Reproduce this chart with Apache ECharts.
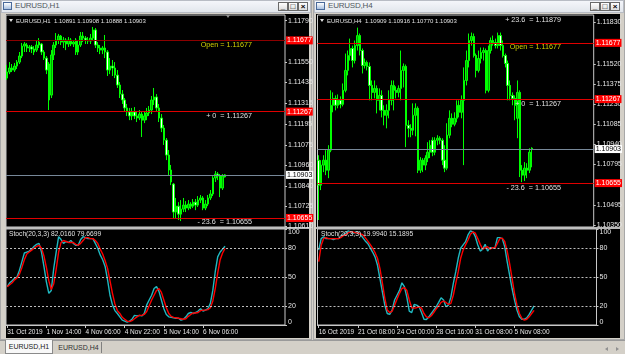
<!DOCTYPE html>
<html><head><meta charset="utf-8">
<script src="https://cdn.jsdelivr.net/npm/echarts@6.0.0/dist/echarts.min.js"></script>
<style>
*{box-sizing:border-box}
html,body{margin:0;padding:0;width:625px;height:354px;overflow:hidden;background:#d4d0c8;font-family:"Liberation Sans",Arial,sans-serif}
.abs{position:absolute}
.title{position:absolute;height:13px;background:linear-gradient(#f4f6fa,#e2e6ec);border:1px solid #b8bcc4}
.ttxt{position:absolute;top:0px;font-size:8px;color:#505860;line-height:12px;letter-spacing:-0.2px}
.icon{position:absolute;top:2px;width:9px;height:8px;border:1px solid #4a6a9a;background:linear-gradient(#ffffff,#a8c0e0)}
.btn{position:absolute;top:2px;width:10px;height:9px;border:1px solid #6a6a6a;background:linear-gradient(#ffffff,#dcdcdc);font-size:8px;line-height:7px;text-align:center;color:#000;font-weight:bold}
.blk{position:absolute;background:#000}
.sep{position:absolute;background:#b8b8b8}
.ov{position:absolute;color:#e0e0e0;white-space:pre;line-height:8px}
.tri{position:absolute;width:0;height:0;border-left:2.5px solid transparent;border-right:2.5px solid transparent;border-top:3px solid #e0e0e0}
#c{position:absolute;left:0;top:0;width:625px;height:354px}
#ovl{position:absolute;left:0;top:0;width:625px;height:354px;pointer-events:none}
</style></head>
<body>
<!-- window chrome -->
<div class="abs" style="left:0;top:0;width:312px;height:340px;border:1px solid #a8a8a8;background:#d4d0c8"></div>
<div class="abs" style="left:313px;top:0;width:312px;height:340px;border:1px solid #a8a8a8;background:#d4d0c8"></div>
<div class="title" style="left:1px;top:0;width:310px"></div>
<div class="icon" style="left:3px"></div>
<div class="ttxt" style="left:15px">EURUSD,H1</div>
<div class="btn" style="left:278px">_</div>
<div class="btn" style="left:288px">&#9633;</div>
<div class="btn" style="left:298px">&#215;</div>
<div class="title" style="left:314px;top:0;width:310px"></div>
<div class="icon" style="left:316px"></div>
<div class="ttxt" style="left:328px">EURUSD,H4</div>
<div class="btn" style="left:590px">_</div>
<div class="btn" style="left:600px">&#9633;</div>
<div class="btn" style="left:610px">&#215;</div>
<div class="blk" style="left:6px;top:14px;width:303px;height:324px"></div>
<div class="blk" style="left:316px;top:14px;width:304px;height:324px"></div>
<div class="sep" style="left:6px;top:227px;width:303px;height:2px"></div>
<div class="sep" style="left:316px;top:227px;width:304px;height:2px"></div>
<!-- tab strip -->
<div class="abs" style="left:0;top:340px;width:625px;height:14px;background:#d4d0c8;border-top:1px solid #9a9a9a"></div>
<div class="abs" style="left:5px;top:340px;width:48px;height:14px;background:#f8f8f8;border:1px solid #8a8a8a;border-top:none;font-size:7px;line-height:13px;text-align:center;color:#202020">EURUSD,H1</div>
<div class="abs" style="left:56px;top:341px;width:45px;height:13px;font-size:7px;line-height:13px;text-align:center;color:#303030">EURUSD,H4</div>
<div class="abs" style="left:101px;top:342px;width:1px;height:11px;background:#808080"></div>
<div class="abs" style="left:605px;top:347px;width:0;height:0;border-top:2px solid transparent;border-bottom:2px solid transparent;border-right:3px solid #909090"></div>
<div class="abs" style="left:616px;top:347px;width:0;height:0;border-top:2px solid transparent;border-bottom:2px solid transparent;border-left:3px solid #909090"></div>

<div id="c"></div>

<div id="ovl">
  <div class="tri" style="left:9px;top:19px"></div>
  <div class="ov" style="left:16px;top:16.5px;font-size:6px">EURUSD,H1  1.10891 1.10908 1.10888 1.10903</div>
  <div class="tri" style="left:226px;top:15px;border-top-color:#909090"></div>
  <div class="ov" style="left:9px;top:230px;font-size:6.7px">Stoch(20,3,3) 82.0160 79.6699</div>
  <div class="tri" style="left:320px;top:19px"></div>
  <div class="ov" style="left:327px;top:16.5px;font-size:6px">EURUSD,H4  1.10909 1.10916 1.10770 1.10903</div>
  <div class="ov" style="left:321px;top:230px;font-size:6.7px">Stoch(20,3,3) 19.9940 15.1895</div>
</div>

<script>
// ---------------- DATA ----------------
const h1TimeLabels = ['31 Oct 2019','1 Nov 14:00','4 Nov 06:00','4 Nov 22:00','5 Nov 14:00','6 Nov 06:00'];
const h4TimeLabels = ['16 Oct 2019','21 Oct 08:00','24 Oct 00:00','28 Oct 16:00','31 Oct 08:00','5 Nov 08:00'];
const h1PriceTicks = [1.11790,1.11550,1.11435,1.11315,1.11195,1.11075,1.10960,1.10840,1.10725,1.10610];
const h4PriceTicks = [1.11830,1.11520,1.11375,1.11230,1.11085,1.10940,1.10795,1.10495,1.10350];
const stochTicks = [0,20,50,80,100];
const stochLevels = [20,50,80];
const openLevel = 1.11677;
const zeroLevel = 1.11267;
const minus236Level = 1.10655;
const plus236Level = 1.11879;
const bidPrice = 1.10903;

// [open, close, low, high]
const h1Ohlc = [
[1.11460,1.11495,1.11449,1.11535],[1.11495,1.11518,1.11483,1.11552],[1.11518,1.11506,1.11495,1.11541],[1.11506,1.11529,1.11495,1.11547],
[1.11529,1.11552,1.11512,1.11564],[1.11552,1.11587,1.11541,1.11610],[1.11587,1.11644,1.11575,1.11662],[1.11644,1.11656,1.11610,1.11667],
[1.11650,1.11633,1.11610,1.11662],[1.11633,1.11639,1.11610,1.11650],[1.11639,1.11627,1.11604,1.11650],[1.11627,1.11610,1.11593,1.11644],
[1.11621,1.11650,1.11610,1.11679],[1.11650,1.11667,1.11633,1.11690],[1.11656,1.11610,1.11593,1.11662],[1.11610,1.11575,1.11564,1.11621],
[1.11575,1.11506,1.11483,1.11587],[1.11541,1.11334,1.11276,1.11552],[1.11362,1.11593,1.11345,1.11621],[1.11593,1.11650,1.11564,1.11667],
[1.11650,1.11679,1.11633,1.11719],[1.11679,1.11702,1.11656,1.11714],[1.11702,1.11667,1.11650,1.11708],[1.11667,1.11679,1.11633,1.11696],
[1.11679,1.11656,1.11621,1.11690],[1.11656,1.11679,1.11639,1.11696],[1.11679,1.11656,1.11644,1.11690],[1.11656,1.11667,1.11639,1.11679],
[1.11679,1.11610,1.11593,1.11690],[1.11610,1.11650,1.11593,1.11679],[1.11650,1.11702,1.11639,1.11725],[1.11702,1.11690,1.11667,1.11725],
[1.11690,1.11679,1.11656,1.11702],[1.11679,1.11673,1.11656,1.11696],[1.11673,1.11690,1.11656,1.11714],[1.11690,1.11737,1.11679,1.11754],
[1.11737,1.11650,1.11633,1.11748],[1.11650,1.11633,1.11610,1.11667],[1.11633,1.11621,1.11598,1.11650],[1.11621,1.11633,1.11598,1.11644],
[1.11633,1.11610,1.11575,1.11708],[1.11610,1.11506,1.11472,1.11621],[1.11506,1.11529,1.11483,1.11575],[1.11529,1.11518,1.11472,1.11564],
[1.11518,1.11477,1.11460,1.11552],[1.11477,1.11420,1.11403,1.11506],[1.11420,1.11368,1.11345,1.11437],[1.11368,1.11334,1.11311,1.11391],
[1.11334,1.11288,1.11265,1.11345],[1.11288,1.11265,1.11242,1.11311],[1.11265,1.11242,1.11218,1.11288],[1.11242,1.11265,1.11218,1.11288],
[1.11265,1.11242,1.11224,1.11293],[1.11242,1.11230,1.11207,1.11265],[1.11230,1.11253,1.11218,1.11276],[1.11253,1.11218,1.11121,1.11270],
[1.11218,1.11242,1.11201,1.11265],[1.11242,1.11259,1.11218,1.11288],[1.11259,1.11276,1.11242,1.11299],[1.11276,1.11334,1.11253,1.11357],
[1.11334,1.11351,1.11305,1.11403],[1.11351,1.11288,1.11265,1.11368],[1.11288,1.11230,1.11207,1.11311],[1.11230,1.11172,1.11149,1.11253],
[1.11172,1.11103,1.11075,1.11190],[1.11103,1.11017,1.10988,1.11115],[1.11017,1.10931,1.10902,1.11046],[1.10931,1.10862,1.10844,1.10960],
[1.10850,1.10689,1.10654,1.10856],[1.10689,1.10723,1.10649,1.10770],[1.10723,1.10677,1.10643,1.10746],[1.10677,1.10706,1.10637,1.10758],
[1.10706,1.10729,1.10689,1.10770],[1.10729,1.10712,1.10689,1.10752],[1.10712,1.10735,1.10700,1.10758],[1.10735,1.10723,1.10706,1.10746],
[1.10723,1.10746,1.10712,1.10764],[1.10746,1.10729,1.10700,1.10764],[1.10729,1.10758,1.10718,1.10781],[1.10758,1.10770,1.10741,1.10787],
[1.10770,1.10712,1.10700,1.10781],[1.10712,1.10735,1.10700,1.10758],[1.10735,1.10770,1.10723,1.10787],[1.10770,1.10793,1.10758,1.10816],
[1.10793,1.10885,1.10781,1.10896],[1.10885,1.10908,1.10862,1.10925],[1.10908,1.10896,1.10873,1.10919],[1.10896,1.10827,1.10775,1.10908],
[1.10827,1.10896,1.10816,1.10908],[1.10891,1.10903,1.10888,1.10908]
];
const h1StochMain = [40,44,46,48.6,50,57,66,75,76,77,79,82,84,85,76,61,45,33,36,59,76,92,89,85,87,86,88,85,83,83,89,92,91,90,90,90,85,80,73,68,61,47,31,21,15,12,8.5,5,4,3,4,6,10,9.5,10,9.5,12,21,26,31,38,40,35,26,17,11,8.5,8,7.5,7,7,5,6,8.5,12,13,12,13,14.5,17,14.5,15.5,17,22.5,36,55.5,71,76,79,82.016];
const h1StochSignal = [40,42,44,47,49,53,60,68,74,76,78,80,82,83,80,72,60,46,37,43,58,76,86,88,87,86,86,86,84,83,85,88,91,91,90,90,88,85,79,74,67,59,46,33,22,15,12,8,6,4,3.5,4.5,6.5,8.5,10,10,11,14,20,26,31,36,38,34,26,18,12,9,8,7.5,7,6.5,6,6.5,9,11,12.5,12.5,13,15,15.5,15.5,16,18,25,38,54,68,75,79.67];

const h4Ohlc = [
[1.10822,1.10640,1.10386,1.10858],[1.10640,1.10786,1.10604,1.10822],[1.10786,1.10822,1.10735,1.10858],[1.10822,1.10749,1.10713,1.10895],
[1.10749,1.10895,1.10691,1.10931],[1.10895,1.11222,1.10880,1.11331],[1.11222,1.11272,1.11171,1.11316],[1.11272,1.11222,1.11185,1.11294],
[1.11222,1.11258,1.11200,1.11301],[1.11258,1.11229,1.11200,1.11287],[1.11229,1.11331,1.11214,1.11381],[1.11331,1.11476,1.11316,1.11599],
[1.11476,1.11585,1.11440,1.11621],[1.11585,1.11636,1.11548,1.11708],[1.11636,1.11548,1.11498,1.11657],[1.11548,1.11657,1.11527,1.11694],
[1.11657,1.11730,1.11621,1.11788],[1.11730,1.11621,1.11585,1.11745],[1.11621,1.11512,1.11454,1.11636],[1.11512,1.11534,1.11490,1.11563],
[1.11534,1.11505,1.11476,1.11548],[1.11505,1.11367,1.11258,1.11534],[1.11367,1.11316,1.11258,1.11403],[1.11316,1.11345,1.11272,1.11403],
[1.11345,1.11258,1.11163,1.11367],[1.11258,1.11294,1.11185,1.11345],[1.11294,1.11185,1.11134,1.11331],[1.11185,1.11149,1.11076,1.11222],
[1.11149,1.11185,1.11054,1.11229],[1.11185,1.11258,1.11127,1.11331],[1.11258,1.11367,1.11222,1.11403],[1.11367,1.11331,1.11185,1.11403],
[1.11331,1.11316,1.11272,1.11360],[1.11316,1.11345,1.11280,1.11367],[1.11345,1.11476,1.11258,1.11621],[1.11476,1.11505,1.11352,1.11527],
[1.11505,1.11076,1.10917,1.11519],[1.11076,1.11054,1.10989,1.11113],[1.11054,1.11040,1.10989,1.11084],[1.11040,1.11149,1.11004,1.11236],
[1.11149,1.11200,1.10996,1.11236],[1.11200,1.10749,1.10728,1.11214],[1.10749,1.10822,1.10728,1.10844],[1.10822,1.10786,1.10735,1.10837],
[1.10786,1.10837,1.10749,1.10858],[1.10837,1.10880,1.10808,1.10953],[1.10880,1.10931,1.10837,1.10967],[1.10967,1.10880,1.10851,1.10989],
[1.10880,1.10967,1.10858,1.10989],[1.10967,1.10982,1.10931,1.11004],[1.10982,1.10967,1.10938,1.10996],[1.10967,1.10822,1.10786,1.10982],
[1.10822,1.10764,1.10735,1.10931],[1.10764,1.11004,1.10749,1.11091],[1.11004,1.11127,1.10982,1.11185],[1.11127,1.11084,1.11062,1.11163],
[1.11084,1.11127,1.11069,1.11171],[1.11127,1.11222,1.11098,1.11258],[1.11222,1.11171,1.11134,1.11258],[1.11171,1.11258,1.11127,1.11294],
[1.11258,1.11403,1.10786,1.11498],[1.11403,1.11548,1.11367,1.11621],[1.11548,1.11694,1.11498,1.11745],[1.11694,1.11723,1.11657,1.11752],
[1.11723,1.11585,1.11570,1.11745],[1.11585,1.11476,1.11425,1.11599],[1.11476,1.11563,1.11461,1.11621],[1.11563,1.11607,1.11527,1.11643],
[1.11607,1.11621,1.11548,1.11643],[1.11621,1.11331,1.11309,1.11636],[1.11331,1.11621,1.11316,1.11657],[1.11621,1.11694,1.11599,1.11716],
[1.11694,1.11679,1.11657,1.11730],[1.11679,1.11657,1.11636,1.11708],[1.11657,1.11730,1.11636,1.11752],[1.11730,1.11657,1.11621,1.11752],
[1.11657,1.11585,1.11570,1.11694],[1.11585,1.11527,1.11498,1.11599],[1.11527,1.11367,1.11258,1.11548],[1.11367,1.11294,1.11258,1.11403],
[1.11294,1.11272,1.11222,1.11316],[1.11272,1.11222,1.11113,1.11294],[1.11127,1.11316,1.10982,1.11403],[1.11316,1.10749,1.10699,1.11331],
[1.10749,1.10713,1.10662,1.10786],[1.10713,1.10764,1.10670,1.10808],[1.10764,1.10749,1.10691,1.10800],[1.10749,1.10880,1.10728,1.10909],
[1.10909,1.10903,1.10770,1.10916]
];
const h4StochMain = [78,90,92,90,90,90,89,90,90,92,94,95.6,98,97,95.6,96.6,97,94.5,91,87.6,85,80.6,76,71,62.5,48.6,34.6,20.7,12,11,15.5,26,31,36,44,40,29,14.4,13,21.4,20.7,19,13,6,5.7,8.5,12,15.5,19,23.5,28.3,26,19,20.7,29,43.4,55.5,69.5,80,83.4,86.8,93.8,98,97,92,83.4,77,79,84,77,80.6,80.6,80,91,91,90,81.6,66,52,38,26,15.5,8.5,6,6,7.5,11,15.5,19.994];
const h4StochSignal = [66,83,90,91,90,90,90,90,90,91,93,94,96,97,97,96,96,95,94,91,87.6,84,80,75.5,69.5,59,44,28,15.5,13,14.4,20.7,27,33,38,39,36,26,18,17.6,18,19,17.6,12,8.5,7.5,9.6,13,16.7,20,23.5,25,23.5,21.4,22.5,31,43.4,55.5,69.5,78,83.4,88.5,94.5,97,95.6,90,84,79,80.6,81.6,79,80.6,80,85,90,90.5,87,77,64,48.6,33,20.7,12,7,5,6,8.5,12,15.19];

// ---------------- CHART ----------------
const FONT = '"Liberation Sans", Arial, sans-serif';
const SLOTS = 114;       // visible bar slots incl. right shift
const LABEL_STEP = 16;   // bars between time labels
const FIB_TEXT_BAR = 100;

const windows = [
  { left: 6, yMin: 1.10603, yMax: 1.11823, ohlc: h1Ohlc, k: h1StochMain, d: h1StochSignal,
    timeLabels: h1TimeLabels, priceTicks: h1PriceTicks, openColor: '#8c0000',
    fibTexts: [[openLevel, 'Open = 1.11677', '#d2d200'], [zeroLevel, '+ 0  = 1.11267', '#e0e0e0'], [minus236Level, '- 23.6  = 1.10655', '#e0e0e0']] },
  { left: 317.5, yMin: 1.10335, yMax: 1.11880, ohlc: h4Ohlc, k: h4StochMain, d: h4StochSignal,
    timeLabels: h4TimeLabels, priceTicks: h4PriceTicks, openColor: '#e00000',
    fibTexts: [[plus236Level, '+ 23.6  = 1.11879', '#e0e0e0'], [openLevel, 'Open = 1.11677', '#d2d200'], [zeroLevel, '+ 0  = 1.11267', '#e0e0e0'], [minus236Level, '- 23.6  = 1.10655', '#e0e0e0']] }
];

const grid = [], xAxis = [], yAxis = [], series = [];
const cats = Array.from({length: SLOTS}, (_, i) => String(i));

function boxLabel(txt, bg, fg) {
  return { show: true, position: 'end', distance: 1, formatter: txt, color: fg, backgroundColor: bg,
           padding: [1, 1, 0, 1], fontSize: 7, lineHeight: 7, fontFamily: FONT };
}

windows.forEach((w, wi) => {
  const gp = wi * 2, gs = wi * 2 + 1;
  const isLab = (i) => i % LABEL_STEP === 0 && i / LABEL_STEP < w.timeLabels.length;
  grid.push({ left: w.left, top: 15, width: 279, height: 212, show: true, backgroundColor: '#000', borderColor: '#c8c8c8', borderWidth: 1 });
  grid.push({ left: w.left, top: 229, width: 279, height: 96, show: true, backgroundColor: '#000', borderColor: '#c8c8c8', borderWidth: 1 });

  xAxis.push({ type: 'category', gridIndex: gp, data: cats, boundaryGap: true, show: false });
  xAxis.push({ type: 'category', gridIndex: gs, data: cats, boundaryGap: true,
    axisLine: { lineStyle: { color: '#c8c8c8', width: 1 } },
    axisTick: { show: true, interval: (i) => isLab(i), alignWithLabel: true, length: 3, lineStyle: { color: '#c8c8c8' } },
    axisLabel: { interval: (i) => isLab(i), formatter: (v, i) => w.timeLabels[Math.round(i / LABEL_STEP)] || '',
                 align: 'left', color: '#e6e6e6', fontSize: 6.5, margin: 3.5, fontFamily: FONT },
    splitLine: { show: false } });

  yAxis.push({ type: 'value', gridIndex: gp, position: 'right', min: w.yMin, max: w.yMax,
    axisLine: { show: false }, splitLine: { show: false },
    axisTick: { show: true, customValues: w.priceTicks, length: 2, lineStyle: { color: '#c8c8c8' } },
    axisLabel: { customValues: w.priceTicks, formatter: (v) => v.toFixed(5), color: '#e6e6e6', fontSize: 7, margin: 3, fontFamily: FONT } });
  yAxis.push({ type: 'value', gridIndex: gs, position: 'right', min: 0, max: 100,
    axisLine: { show: false }, splitLine: { show: false },
    axisTick: { show: true, customValues: stochTicks, length: 2, lineStyle: { color: '#c8c8c8' } },
    axisLabel: { customValues: stochTicks, color: '#e6e6e6', fontSize: 7, margin: 3, fontFamily: FONT,
      formatter: (v) => v === 100 ? '{t|100}' : (v === 0 ? '{b|0}' : String(v)),
      rich: { t: { padding: [6, 0, 0, 0], fontSize: 7, color: '#e6e6e6', fontFamily: FONT },
              b: { padding: [0, 0, 6, 0], fontSize: 7, color: '#e6e6e6', fontFamily: FONT } } } });

  series.push({ type: 'candlestick', xAxisIndex: gp, yAxisIndex: gp, data: w.ohlc, barWidth: 2, animation: false,
    itemStyle: { color: '#00a800', color0: '#ffffff', borderColor: '#00ff00', borderColor0: '#00ff00', borderWidth: 1 },
    markLine: { silent: true, symbol: 'none', animation: false, precision: 5,
      data: [
        { yAxis: openLevel, lineStyle: { color: w.openColor, width: 1, type: 'solid' }, label: boxLabel(openLevel.toFixed(5), '#ff0000', '#ffffff') },
        { yAxis: zeroLevel, lineStyle: { color: '#e00000', width: 1, type: 'solid' }, label: boxLabel(zeroLevel.toFixed(5), '#ff0000', '#ffffff') },
        { yAxis: minus236Level, lineStyle: { color: '#e00000', width: 1, type: 'solid' }, label: boxLabel(minus236Level.toFixed(5), '#ff0000', '#ffffff') },
        { yAxis: bidPrice, lineStyle: { color: '#778899', width: 1, type: 'solid' }, label: boxLabel(bidPrice.toFixed(5), '#ffffff', '#000000') }
      ] },
    markPoint: { silent: true, symbol: 'circle', symbolSize: 0, animation: false,
      data: w.fibTexts.map(([lvl, txt, col]) => ({ coord: [FIB_TEXT_BAR, lvl], value: lvl,
        label: { show: true, position: 'left', distance: 0, offset: [0, 4.5], formatter: txt, color: col, fontSize: 7.2, fontFamily: FONT } })) }
  });

  series.push({ type: 'line', xAxisIndex: gs, yAxisIndex: gs, data: w.k, symbol: 'none', showSymbol: false, animation: false,
    lineStyle: { color: '#20b8c0', width: 1.4 },
    markLine: { silent: true, symbol: 'none', animation: false, label: { show: false },
      lineStyle: { color: '#bdbdbd', type: [2, 2], width: 1 }, data: stochLevels.map(v => ({ yAxis: v })) } });
  series.push({ type: 'line', xAxisIndex: gs, yAxisIndex: gs, data: w.d, symbol: 'none', showSymbol: false, animation: false,
    lineStyle: { color: '#ff0000', width: 1.4 } });
});

const chart = echarts.init(document.getElementById('c'), null, { renderer: 'canvas', width: 625, height: 354 });
chart.setOption({ animation: false, backgroundColor: 'transparent', grid, xAxis, yAxis, series });
</script>
</body></html>
